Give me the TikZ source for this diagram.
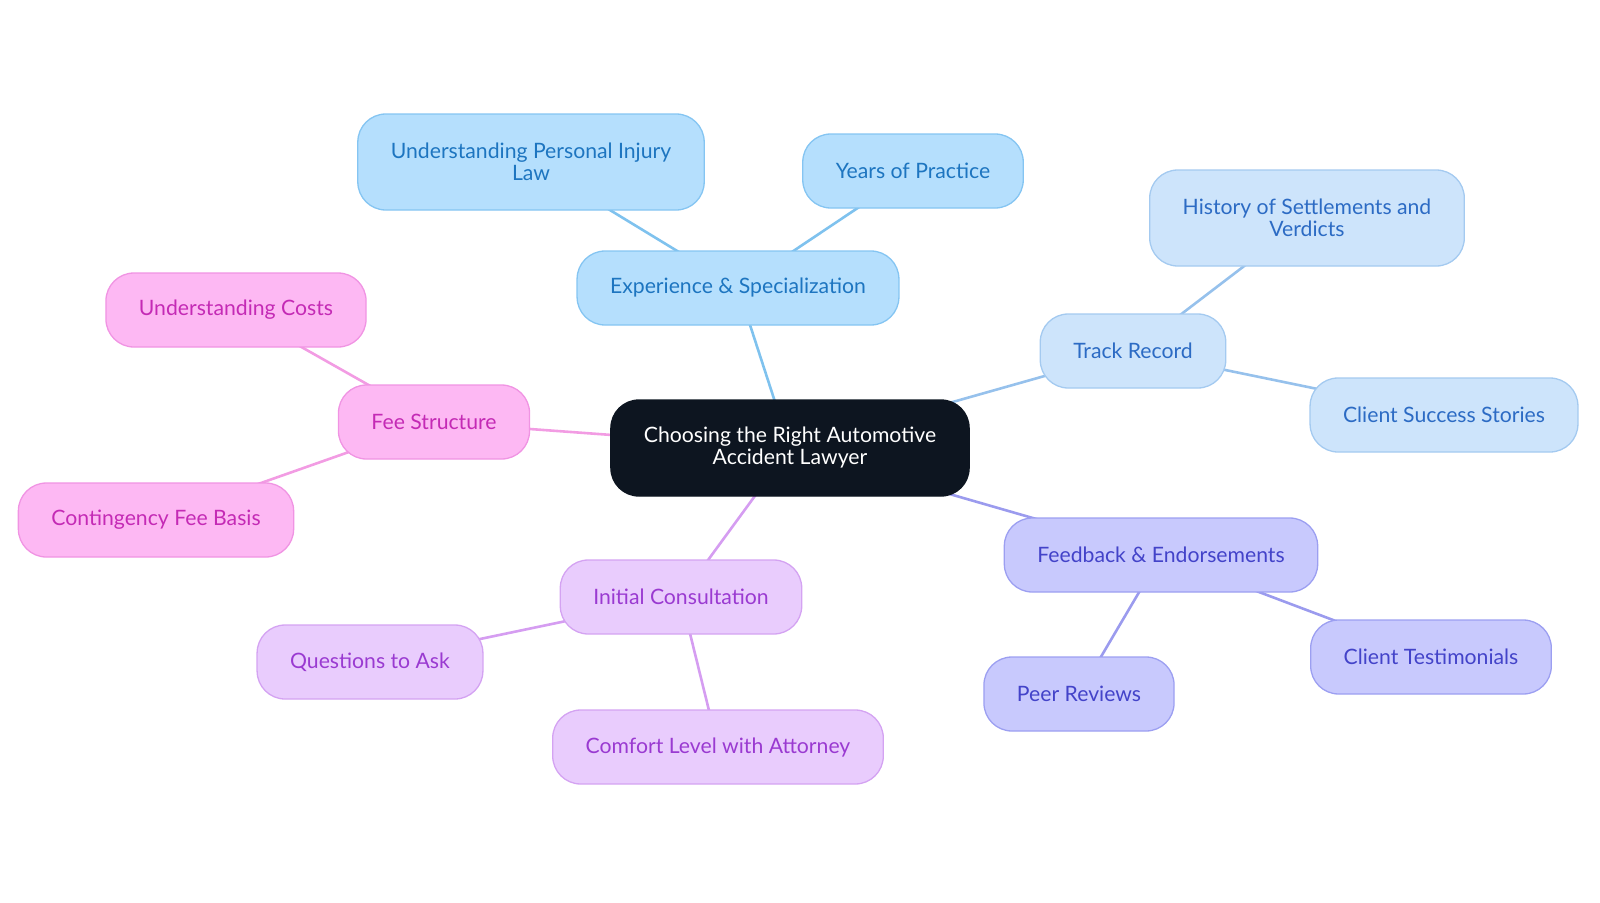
\documentclass[tikz,border=0pt]{standalone}
\usepackage{fontspec}
\setmainfont{Lato}
\usetikzlibrary{backgrounds}

\definecolor{rootfill}{HTML}{0D1520}
\definecolor{expfill}{HTML}{B5DFFD}
\definecolor{expdraw}{HTML}{85C5F2}
\definecolor{exptext}{HTML}{1D75C0}
\definecolor{explink}{HTML}{7FC2EE}
\definecolor{trackfill}{HTML}{CDE4FB}
\definecolor{trackdraw}{HTML}{A4CAF0}
\definecolor{tracktext}{HTML}{2C6BC4}
\definecolor{tracklink}{HTML}{96C1EC}
\definecolor{feedfill}{HTML}{C8C9FD}
\definecolor{feeddraw}{HTML}{9C9FF1}
\definecolor{feedtext}{HTML}{4343C9}
\definecolor{feedlink}{HTML}{9B9BEE}
\definecolor{initfill}{HTML}{E9CCFD}
\definecolor{initdraw}{HTML}{D4A3F2}
\definecolor{inittext}{HTML}{9A3AD1}
\definecolor{initlink}{HTML}{D59DF1}
\definecolor{feefill}{HTML}{FDB8F3}
\definecolor{feedraw}{HTML}{F094E3}
\definecolor{feetext}{HTML}{C42AB5}
\definecolor{feelink}{HTML}{F29CE3}

\tikzset{
  topic/.style={draw, line width=1.3pt, rounded corners=28pt, align=center,
    inner xsep=33pt, inner ysep=0pt, minimum height=74pt,
    font=\fontsize{21.2}{22}\selectfont},
  tall/.style={minimum height=96pt},
  rootnode/.style={topic, tall, fill=rootfill, draw=rootfill, text=white},
  expnode/.style={topic, fill=expfill, draw=expdraw, text=exptext},
  tracknode/.style={topic, fill=trackfill, draw=trackdraw, text=tracktext},
  feednode/.style={topic, fill=feedfill, draw=feeddraw, text=feedtext},
  initnode/.style={topic, fill=initfill, draw=initdraw, text=inittext},
  feenode/.style={topic, fill=feefill, draw=feedraw, text=feetext},
  link/.style={line width=2.6pt}
}

\begin{document}
\begin{tikzpicture}[x=1pt,y=-1pt]
\useasboundingbox (0,0) rectangle (1600,902);
% centre
\node[rootnode] (root) at (790,448) {Choosing the Right Automotive\\Accident Lawyer};
% experience
\node[expnode] (exp) at (738,288) {Experience \& Specialization};
\node[expnode, tall] (law) at (531,162) {Understanding Personal Injury\\Law};
\node[expnode] (years) at (913,171) {Years of Practice};
% track record
\node[tracknode] (track) at (1133,351) {Track Record};
\node[tracknode, tall] (history) at (1307,218) {History of Settlements and\\Verdicts};
\node[tracknode] (stories) at (1444,415) {Client Success Stories};
% feedback
\node[feednode] (feed) at (1161,555) {Feedback \& Endorsements};
\node[feednode] (testim) at (1431,657) {Client Testimonials};
\node[feednode] (peer) at (1079,694) {Peer Reviews};
% consultation
\node[initnode] (consult) at (681,597) {Initial Consultation};
\node[initnode] (questions) at (370,662) {Questions to Ask};
\node[initnode] (comfort) at (718,747) {Comfort Level with Attorney};
% fees
\node[feenode] (fee) at (434,422) {Fee Structure};
\node[feenode] (costs) at (236,310) {Understanding Costs};
\node[feenode] (contingency) at (156,520) {Contingency Fee Basis};

\begin{scope}[on background layer]
\draw[link, explink] (root.center) -- (exp.center);
\draw[link, explink] (exp.center) -- (law.center);
\draw[link, explink] (exp.center) -- (years.center);
\draw[link, tracklink] (root.center) -- (track.center);
\draw[link, tracklink] (track.center) -- (history.center);
\draw[link, tracklink] (track.center) -- (stories.center);
\draw[link, feedlink] (root.center) -- (feed.center);
\draw[link, feedlink] (feed.center) -- (testim.center);
\draw[link, feedlink] (feed.center) -- (peer.center);
\draw[link, initlink] (root.center) -- (consult.center);
\draw[link, initlink] (consult.center) -- (questions.center);
\draw[link, initlink] (consult.center) -- (comfort.center);
\draw[link, feelink] (root.center) -- (fee.center);
\draw[link, feelink] (fee.center) -- (costs.center);
\draw[link, feelink] (fee.center) -- (contingency.center);
\end{scope}
\end{tikzpicture}
\end{document}
